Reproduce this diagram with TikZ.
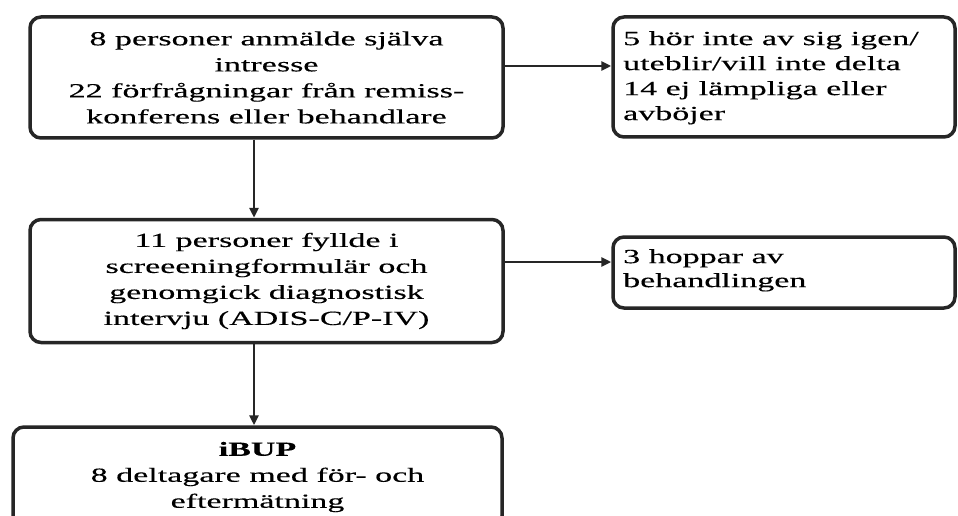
\documentclass[tikz,border=0pt]{standalone}
\usepackage{fontspec}
\setmainfont[FakeStretch=1.7,FakeBold=0.3]{Liberation Serif}
\usetikzlibrary{arrows.meta}
\begin{document}
\begin{tikzpicture}[x=1pt,y=-1pt,
  box/.style={draw=black!85, line width=3.5pt, rounded corners=11pt, inner sep=0pt,
    font=\fontsize{20}{26}\selectfont},
  cbox/.style={box, align=center},
  lbox/.style={box, align=left},
  conn/.style={draw=black!85, line width=2.6pt, -{Triangle[length=10pt,width=9pt]}}]
\clip (0,0) rectangle (958,516);
\fill[white] (0,0) rectangle (958,516);
\node[cbox, minimum width=473pt, minimum height=121pt] (b1) at (266.5,77.5)
  {8 personer anmälde själva\\intresse\\22 förfrågningar från remiss-\\konferens eller behandlare};
\node[box, minimum width=342pt, minimum height=120pt] (r1) at (784,77) {};
\node[anchor=north west, align=left, inner sep=0pt, font=\fontsize{20}{25}\selectfont] (r1t) at (623,31)
  {5 hör inte av sig igen/\\uteblir/vill inte delta\\14 ej lämpliga eller\\avböjer};
\node[cbox, minimum width=473pt, minimum height=123pt] (b2) at (266.5,281)
  {11 personer fyllde i\\screeeningformulär och\\genomgick diagnostisk\\intervju (ADIS-C/P-IV)};
\node[box, minimum width=342pt, minimum height=71pt] (r2) at (784,272.5) {};
\node[anchor=north west, align=left, inner sep=0pt, font=\fontsize{20}{24}\selectfont] (r2t) at (623,249)
  {3 hoppar av\\behandlingen};
\node[cbox, minimum width=489pt, minimum height=100pt] (b3) at (257.5,477)
  {\textbf{iBUP}\\8 deltagare med för- och\\eftermätning};
\coordinate (y1) at (0,66);
\coordinate (y2) at (0,262);
\draw[conn] (b1.east |- y1) -- (r1.west |- y1);
\draw[conn] (b2.east |- y2) -- (r2.west |- y2);
\draw[conn] (254,138) coordinate (v1) (b1.south -| v1) -- (b2.north -| v1);
\draw[conn] (b2.south -| v1) -- (b3.north -| v1);
\end{tikzpicture}
\end{document}
